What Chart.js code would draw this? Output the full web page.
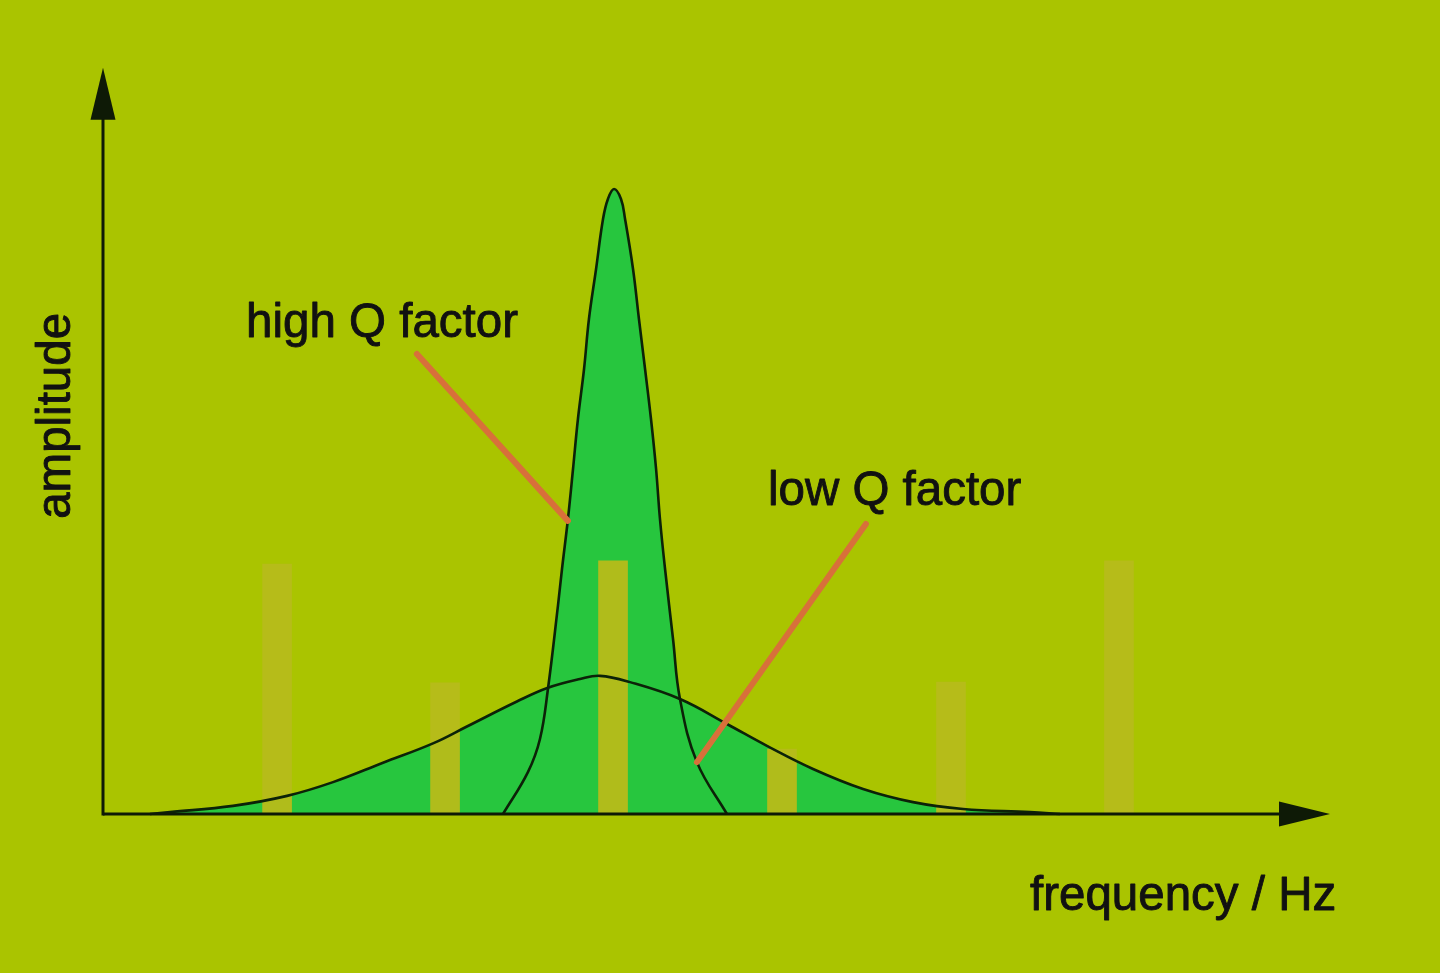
<!DOCTYPE html>
<html><head><meta charset="utf-8">
<script src="https://cdn.jsdelivr.net/npm/chart.js@4.4.0/dist/chart.umd.min.js"></script>
<style>html,body{margin:0;padding:0;background:#aac400;overflow:hidden}#wrap{width:1440px;height:973px;position:relative}</style>
</head><body><div id="wrap"><canvas id="c"></canvas></div>
<script>
// ---- data (frequency in harmonic units, amplitude relative to high-Q peak) ----
const harmonicFreq = [1.027, 2.018, 3.009, 4.006, 5.003, 5.994];
const harmonicAmp  = [0.400, 0.210, 0.405, 0.104, 0.211, 0.405];

const highQFreq = [2.360, 2.507, 2.578, 2.625, 2.684, 2.708, 2.743, 2.773, 2.802, 2.838, 2.867, 2.909, 2.950, 2.979, 3.015,
                   3.056, 3.080, 3.127, 3.162, 3.198, 3.233, 3.263, 3.286, 3.316, 3.363, 3.404, 3.504, 3.681];
const highQAmp  = [0.000, 0.067, 0.120, 0.200, 0.333, 0.392, 0.472, 0.552, 0.632, 0.712, 0.792, 0.872, 0.952, 0.984, 1.000,
                   0.984, 0.952, 0.872, 0.792, 0.712, 0.632, 0.552, 0.472, 0.392, 0.280, 0.184, 0.083, 0.000];

const lowQFreq = [0.277, 0.395, 0.767, 1.086, 1.357, 1.652, 1.947, 2.147, 2.442, 2.625, 2.814, 2.932, 3.109, 3.404,
                  3.681, 3.917, 4.189, 4.484, 4.779, 5.074, 5.469, 5.646];
const lowQAmp  = [0.000, 0.003, 0.013, 0.029, 0.051, 0.082, 0.113, 0.140, 0.180, 0.202, 0.216, 0.221, 0.211, 0.184,
                  0.144, 0.109, 0.072, 0.040, 0.019, 0.008, 0.003, 0.000];

const labelTexts = ['high Q factor', 'low Q factor', 'frequency / Hz', 'amplitude'];

// ---- layout (kept apart from data) ----
const view = { xMin: -0.6077, xMax: 7.888, yMin: -0.2544, yMax: 1.3024, xTip: 7.239, yTip: 1.194 };
const leaders = [
  [{x: 1.852, y: 0.736}, {x: 2.743, y: 0.469}],
  [{x: 4.501, y: 0.464}, {x: 3.504, y: 0.083}]
];
const labelPos = [
  {x: 0.844, y: 0.763, rot: false},
  {x: 3.923, y: 0.494, rot: false},
  {x: 5.469, y: -0.154, rot: false},
  {x: -0.195, y: 0.637, rot: true}
];
const COLORS = { bg: '#aac400', fill: '#27c63e', bar: 'rgba(182,187,26,0.96)', curve: '#0c2208', axis: '#0e1a06', leader: '#d8703a', text: '#111111' };
const FONT = '47.5px "Liberation Sans", Arial, sans-serif';

const pts = (xs, ys) => xs.map((x, i) => ({x, y: ys[i]}));

const bgPlugin = {
  id: 'bg',
  beforeDraw(chart) {
    const c = chart.ctx;
    c.save(); c.fillStyle = COLORS.bg; c.fillRect(0, 0, chart.width, chart.height); c.restore();
  }
};

const decoPlugin = {
  id: 'deco',
  afterDatasetsDraw(chart) {
    const c = chart.ctx, xs = chart.scales.x, ys = chart.scales.y;
    const ox = xs.getPixelForValue(0), oy = ys.getPixelForValue(0);
    const tx = xs.getPixelForValue(view.xTip), ty = ys.getPixelForValue(view.yTip);
    c.save();
    c.strokeStyle = COLORS.axis; c.fillStyle = COLORS.axis; c.lineWidth = 3; c.lineCap = 'butt';
    c.beginPath(); c.moveTo(ox, oy); c.lineTo(tx - 40, oy); c.stroke();
    c.beginPath(); c.moveTo(ox, oy + 1.5); c.lineTo(ox, ty + 40); c.stroke();
    // arrowheads
    c.beginPath(); c.moveTo(tx, oy); c.lineTo(tx - 51, oy - 12.5); c.lineTo(tx - 51, oy + 12.5); c.closePath(); c.fill();
    c.beginPath(); c.moveTo(ox, ty); c.lineTo(ox - 12.5, ty + 52); c.lineTo(ox + 12.5, ty + 52); c.closePath(); c.fill();
    // labels
    c.font = FONT; c.fillStyle = COLORS.text; c.strokeStyle = COLORS.text; c.lineWidth = 0.9; c.lineJoin = 'round';
    c.textBaseline = 'alphabetic';
    labelTexts.forEach((t, i) => {
      const p = labelPos[i];
      const px = xs.getPixelForValue(p.x), py = ys.getPixelForValue(p.y);
      if (p.rot) {
        c.save(); c.translate(px, py); c.rotate(-Math.PI / 2); c.textAlign = 'center';
        c.fillText(t, 0, 0); c.strokeText(t, 0, 0); c.restore();
      } else {
        c.textAlign = 'left'; c.fillText(t, px, py); c.strokeText(t, px, py);
      }
    });
    c.restore();
  }
};

new Chart(document.getElementById('c'), {
  type: 'bar',
  data: {
    datasets: [
      { type: 'line', label: 'leader1', data: leaders[0], borderColor: COLORS.leader, borderWidth: 6, pointRadius: 0, fill: false, order: 0, borderCapStyle: 'round' },
      { type: 'line', label: 'leader2', data: leaders[1], borderColor: COLORS.leader, borderWidth: 6, pointRadius: 0, fill: false, order: 0, borderCapStyle: 'round' },
      { type: 'line', label: 'high Q factor', data: pts(highQFreq, highQAmp), borderColor: COLORS.curve, borderWidth: 2.6,
        backgroundColor: COLORS.fill, fill: 'origin', pointRadius: 0, tension: 0.4, order: 1 },
      { type: 'line', label: 'low Q factor', data: pts(lowQFreq, lowQAmp), borderColor: COLORS.curve, borderWidth: 2.6,
        backgroundColor: COLORS.fill, fill: 'origin', pointRadius: 0, tension: 0.4, order: 1 },
      { type: 'bar', label: 'harmonics', data: pts(harmonicFreq, harmonicAmp), backgroundColor: COLORS.bar, borderWidth: 0,
        barThickness: 29, order: 2 }
    ]
  },
  options: {
    responsive: true, maintainAspectRatio: false, animation: false,
    layout: { padding: 0 },
    plugins: { legend: { display: false }, tooltip: { enabled: false }, filler: { drawTime: 'beforeDatasetsDraw' } },
    scales: {
      x: { type: 'linear', min: view.xMin, max: view.xMax, display: false, offset: false },
      y: { type: 'linear', min: view.yMin, max: view.yMax, display: false }
    }
  },
  plugins: [bgPlugin, decoPlugin]
});
</script>
</body></html>
